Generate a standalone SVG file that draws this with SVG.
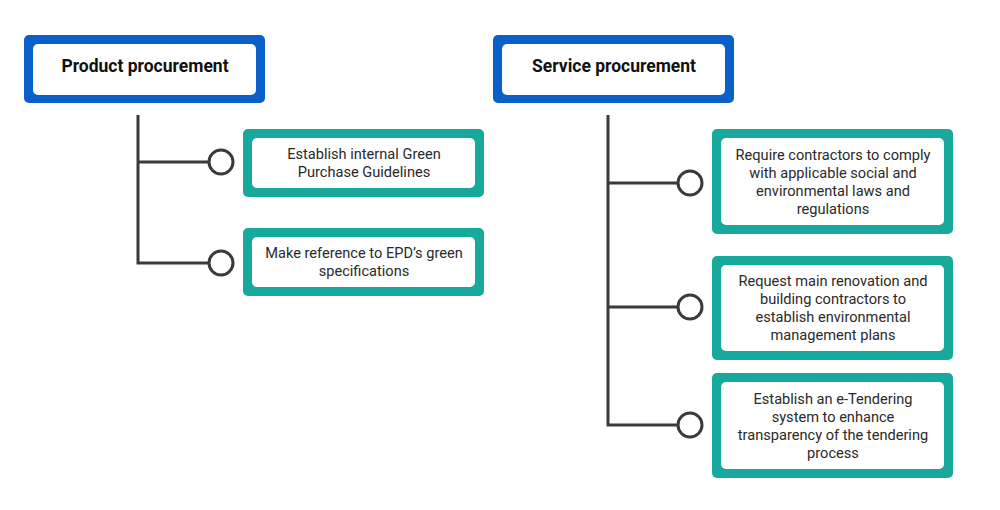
<svg xmlns="http://www.w3.org/2000/svg" width="1000" height="510" viewBox="0 0 1000 510">
<style>
.hdr{fill:#0a5fc8}
.grn{fill:#17a99b}
.in{fill:#ffffff}
.ht{font-family:Roboto,"Liberation Sans",sans-serif;font-weight:bold;font-size:17.5px;fill:#111;text-anchor:middle}
.bt{font-family:Roboto,"Liberation Sans",sans-serif;font-size:14.6px;fill:#2a2a2a;text-anchor:middle}
.ln{stroke:#3a3a3a;stroke-width:3;fill:none}
.dot{stroke:#3a3a3a;stroke-width:3;fill:#fff}
</style>
<rect width="1000" height="510" fill="#fff"/>
<g id="connectors">
<polyline class="ln" points="138,115 138,263 209,263"/>
<line class="ln" x1="138" y1="162" x2="209" y2="162"/>
<circle class="dot" cx="221" cy="162" r="12"/>
<circle class="dot" cx="221" cy="263" r="12"/>
<polyline class="ln" points="608,115 608,425 678,425"/>
<line class="ln" x1="608" y1="183" x2="678" y2="183"/>
<line class="ln" x1="608" y1="307" x2="678" y2="307"/>
<circle class="dot" cx="690" cy="183" r="12"/>
<circle class="dot" cx="690" cy="307" r="12"/>
<circle class="dot" cx="690" cy="425" r="12"/>
</g>
<g id="product">
<rect class="hdr" x="24" y="35" width="241" height="68" rx="5"/>
<rect class="in" x="33" y="44" width="223" height="51" rx="5"/>
<text class="ht" x="145" y="72">Product procurement</text>
</g>
<g id="service">
<rect class="hdr" x="493" y="35" width="241" height="68" rx="5"/>
<rect class="in" x="502" y="44" width="223" height="51" rx="5"/>
<text class="ht" x="614" y="72">Service procurement</text>
</g>
<g id="p1">
<rect class="grn" x="243" y="129" width="241" height="68" rx="5"/>
<rect class="in" x="252" y="138" width="223" height="50" rx="5"/>
<text class="bt" x="364" y="159">Establish internal Green</text>
<text class="bt" x="364" y="177">Purchase Guidelines</text>
</g>
<g id="p2">
<rect class="grn" x="243" y="228" width="241" height="68" rx="5"/>
<rect class="in" x="252" y="237" width="223" height="50" rx="5"/>
<text class="bt" x="364" y="258">Make reference to EPD’s green</text>
<text class="bt" x="364" y="276">specifications</text>
</g>
<g id="s1">
<rect class="grn" x="712" y="129" width="241" height="105" rx="5"/>
<rect class="in" x="721" y="138" width="223" height="87" rx="5"/>
<text class="bt" x="833" y="160">Require contractors to comply</text>
<text class="bt" x="833" y="178">with applicable social and</text>
<text class="bt" x="833" y="196">environmental laws and</text>
<text class="bt" x="833" y="214">regulations</text>
</g>
<g id="s2">
<rect class="grn" x="712" y="256" width="241" height="104" rx="5"/>
<rect class="in" x="721" y="265" width="223" height="86" rx="5"/>
<text class="bt" x="833" y="286">Request main renovation and</text>
<text class="bt" x="833" y="304">building contractors to</text>
<text class="bt" x="833" y="322">establish environmental</text>
<text class="bt" x="833" y="340">management plans</text>
</g>
<g id="s3">
<rect class="grn" x="712" y="373" width="241" height="105" rx="5"/>
<rect class="in" x="721" y="382" width="223" height="87" rx="5"/>
<text class="bt" x="833" y="404">Establish an e-Tendering</text>
<text class="bt" x="833" y="422">system to enhance</text>
<text class="bt" x="833" y="440">transparency of the tendering</text>
<text class="bt" x="833" y="458">process</text>
</g>
</svg>
